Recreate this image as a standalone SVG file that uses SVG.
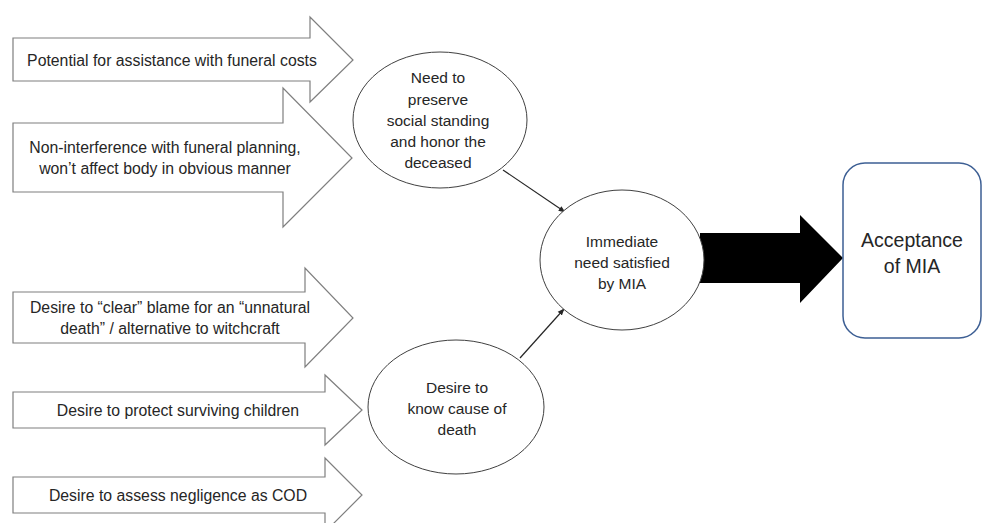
<svg xmlns="http://www.w3.org/2000/svg" width="984" height="523" viewBox="0 0 984 523">
<defs>
<style>
.blk{fill:#fff;stroke:#7f7f7f;stroke-width:1.2}
.ell{fill:#fff;stroke:#404040;stroke-width:1}
.t{font-family:"Liberation Sans",Arial,sans-serif;font-size:15.8px;fill:#262626;text-anchor:middle;dominant-baseline:central}
.te{font-family:"Liberation Sans",Arial,sans-serif;font-size:15.5px;fill:#262626;text-anchor:middle;dominant-baseline:central}
.tb{font-family:"Liberation Sans",Arial,sans-serif;font-size:19.5px;fill:#262626;text-anchor:middle;dominant-baseline:central}
.con{stroke:#262626;stroke-width:1.2;fill:none;marker-end:url(#ah)}
</style>
<marker id="ah" viewBox="0 0 10 10" refX="9" refY="5" markerWidth="7" markerHeight="7" orient="auto" markerUnits="userSpaceOnUse">
<path d="M0,1 L10,5 L0,9 z" fill="#262626"/>
</marker>
</defs>
<g id="f1"><path class="blk" d="M13,38 H310 V17 L353,60 L310,102 V81 H13 Z"/><text class="t" x="172" y="60">Potential for assistance with funeral costs</text></g>
<g id="f2"><path class="blk" d="M13,123 H283 V88 L352,158 L283,227 V192 H13 Z"/><text class="t" x="165" y="147">Non-interference with funeral planning,</text><text class="t" x="165" y="168">won’t affect body in obvious manner</text></g>
<g id="f3"><path class="blk" d="M13,292 H305 V268 L353,318 L305,367 V343 H13 Z"/><text class="t" x="170" y="307">Desire to “clear” blame for an “unnatural</text><text class="t" x="170" y="328">death” / alternative to witchcraft</text></g>
<g id="f4"><path class="blk" d="M13,392 H325 V375 L362,410 L325,445 V428 H13 Z"/><text class="t" x="178" y="410">Desire to protect surviving children</text></g>
<g id="f5"><path class="blk" d="M13,477 H325 V458 L362,495 L325,532 V513 H13 Z"/><text class="t" x="178" y="495">Desire to assess negligence as COD</text></g>
<g id="connectors">
<line class="con" x1="503" y1="170" x2="565" y2="212"/>
<line class="con" x1="520" y1="358" x2="564" y2="309"/>
<path d="M700,233 H800 V215 L843,258 L800,303 V283 H700 Z" fill="#000"/>
</g>
<g id="n1"><ellipse class="ell" cx="440" cy="120" rx="87" ry="68"/><text class="te" x="438" y="77">Need to</text><text class="te" x="438" y="99">preserve</text><text class="te" x="438" y="120">social standing</text><text class="te" x="438" y="141">and honor the</text><text class="te" x="438" y="162">deceased</text></g>
<g id="n2"><ellipse class="ell" cx="622" cy="260" rx="82" ry="70"/><text class="te" x="622" y="241">Immediate</text><text class="te" x="622" y="262">need satisfied</text><text class="te" x="622" y="283">by MIA</text></g>
<g id="n3"><ellipse class="ell" cx="456" cy="407" rx="88" ry="67"/><text class="te" x="457" y="387">Desire to</text><text class="te" x="457" y="408">know cause of</text><text class="te" x="457" y="429">death</text></g>
<g id="n4"><rect x="843" y="163" width="138" height="175" rx="22" fill="#fff" stroke="#3d5f94" stroke-width="1.5"/><text class="tb" x="912" y="240">Acceptance</text><text class="tb" x="912" y="266">of MIA</text></g>
</svg>
